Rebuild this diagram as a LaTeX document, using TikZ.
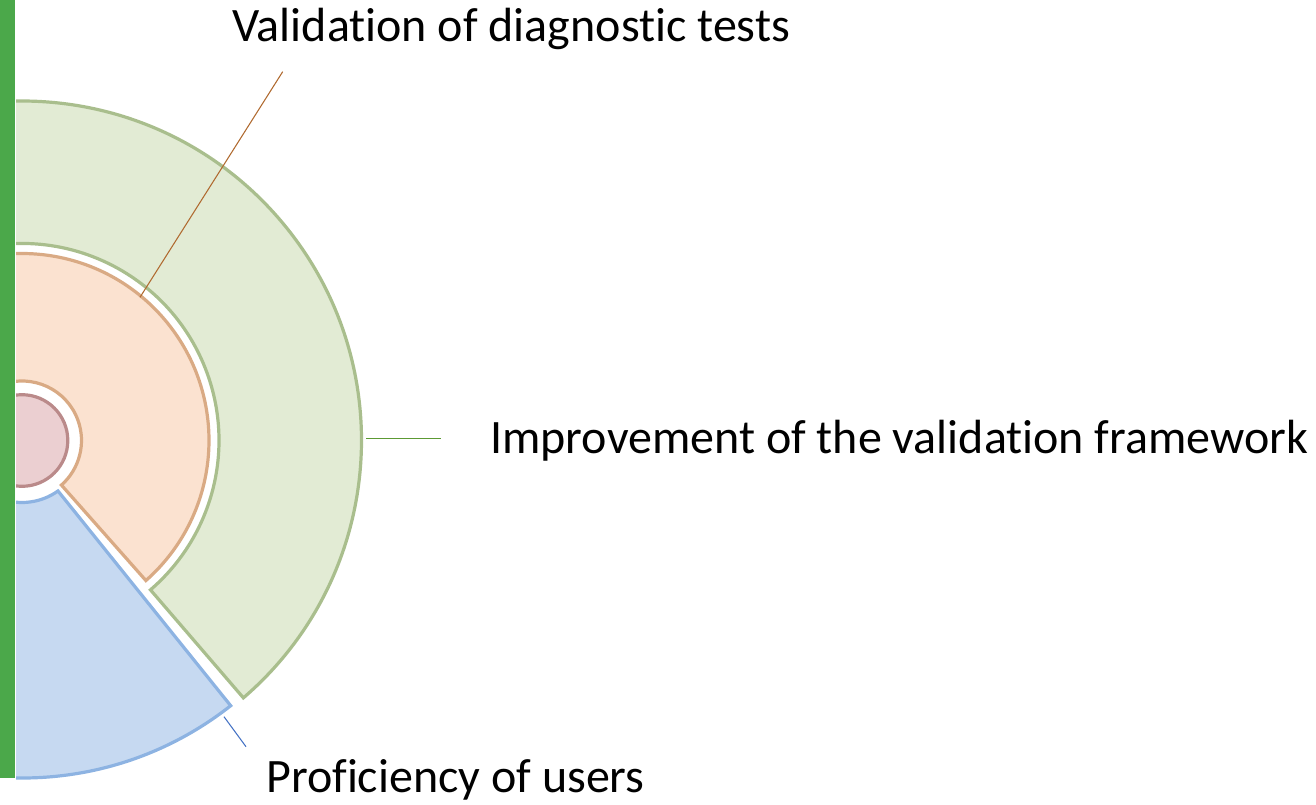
\documentclass[tikz,border=0pt]{standalone}
\usepackage{fontspec}
\setmainfont[Ligatures={NoCommon}]{Carlito}
\usetikzlibrary{positioning}

\definecolor{barGreen}{HTML}{4BA84A}
\definecolor{frameFill}{HTML}{E2EBD4}
\definecolor{frameLine}{HTML}{A9BE8D}
\definecolor{testFill}{HTML}{FBE2D0}
\definecolor{testLine}{HTML}{D9AA84}
\definecolor{coreFill}{HTML}{EBCFD1}
\definecolor{coreLine}{HTML}{BA8A8A}
\definecolor{userFill}{HTML}{C6D9F1}
\definecolor{userLine}{HTML}{8DB3E2}
\definecolor{leadOrange}{HTML}{B06A30}
\definecolor{leadGreen}{HTML}{5C9A34}
\definecolor{leadBlue}{HTML}{4472C4}

\tikzset{
  part/.style={line width=2.4pt, line join=miter},
  lbl/.style={anchor=base west, inner sep=0pt, font=\fontsize{36}{43}\selectfont},
  leader/.style={line width=0.8pt}
}

\begin{document}
\begin{tikzpicture}[x=0.75pt,y=0.75pt]
\useasboundingbox (0,0) rectangle (1316,804);
\coordinate (c) at (22,363.5);

%% left bar
\fill[barGreen] (0,26) rectangle (15,804);

\begin{scope}
\clip (16,0) rectangle (1316,804);
% outer ring
\draw[part, fill=frameFill, draw=frameLine]
  ([shift={(-49.3:339.5)}]c) arc[start angle=-49.3, end angle=200, radius=339.5]
  -- ([shift={(200:197)}]c) arc[start angle=200, end angle=-49.3, radius=197] -- cycle;
% middle ring
\draw[part, fill=testFill, draw=testLine]
  ([shift={(-48.5:187)}]c) arc[start angle=-48.5, end angle=200, radius=187]
  -- ([shift={(200:59.5)}]c) arc[start angle=200, end angle=-48.5, radius=59.5] -- cycle;
% lower sector
\draw[part, fill=userFill, draw=userLine]
  ([shift={(-54.5:62)}]c) -- ([shift={(-51.8:337.5)}]c)
  arc[start angle=-51.8, end angle=-200, radius=337.5]
  -- ([shift={(160:62)}]c) arc[start angle=160, end angle=305.5, radius=62] -- cycle;
% core
\draw[part, fill=coreFill, draw=coreLine] (c) circle[radius=45.8];
\end{scope}

%% labels
\node[lbl] (valid) at (232,762.3) {Validation of diagnostic tests};
\node[lbl] (frame) at (490,351) {Improvement of the validation framework};
\node[lbl] (users) at (266,12) {Proficiency of users};

%% leader lines
\coordinate (validA) at (140,506.7);
\coordinate (validB) at (282.7,732.3);
\coordinate (frameA) at (366,365.7);
\coordinate (frameB) at (441.3,365.7);
\coordinate (usersA) at (224,87.3);
\coordinate (usersB) at (246,57.3);
\draw[leader, leadOrange] (validA) -- (validB);
\draw[leader, leadGreen] (frameA) -- (frameB);
\draw[leader, leadBlue] (usersA) -- (usersB);
\end{tikzpicture}
\end{document}
